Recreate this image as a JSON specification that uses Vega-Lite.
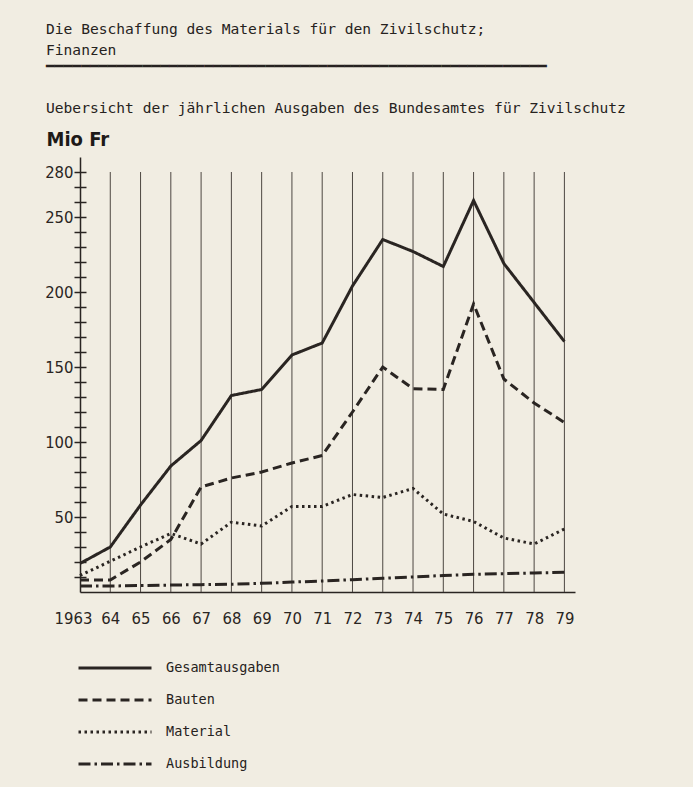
{
  "$schema": "https://vega.github.io/schema/vega-lite/v6.json",
  "width": 495,
  "height": 435,
  "autosize": {"type": "none"},
  "padding": {"left": 80, "top": 157, "right": 118, "bottom": 195},
  "background": "#f1ede2",
  "title": {
    "text": ["Die Beschaffung des Materials für den Zivilschutz;", "Finanzen"],
    "subtitle": ["━━━━━━━━━━━━━━━━━━━━━━━━━━━━━━━━━━━━━━━━━━━━━━━━━━━━━━━━━", "Uebersicht der jährlichen Ausgaben des Bundesamtes für Zivilschutz"],
    "anchor": "start",
    "frame": "group",
    "dx": -34,
    "offset": 13,
    "font": "DejaVu Sans Mono",
    "fontSize": 14.6,
    "fontWeight": "normal",
    "color": "#262220",
    "lineHeight": 21,
    "subtitleFont": "DejaVu Sans Mono",
    "subtitleFontSize": 14.6,
    "subtitleColor": "#262220",
    "subtitleLineHeight": 42,
    "subtitlePadding": 2
  },
  "data": {
    "values": [
      {"year": 1963, "series": "Gesamtausgaben", "value": 19},
      {"year": 1964, "series": "Gesamtausgaben", "value": 30},
      {"year": 1965, "series": "Gesamtausgaben", "value": 58},
      {"year": 1966, "series": "Gesamtausgaben", "value": 84},
      {"year": 1967, "series": "Gesamtausgaben", "value": 101},
      {"year": 1968, "series": "Gesamtausgaben", "value": 131},
      {"year": 1969, "series": "Gesamtausgaben", "value": 135},
      {"year": 1970, "series": "Gesamtausgaben", "value": 158},
      {"year": 1971, "series": "Gesamtausgaben", "value": 166},
      {"year": 1972, "series": "Gesamtausgaben", "value": 204},
      {"year": 1973, "series": "Gesamtausgaben", "value": 235},
      {"year": 1974, "series": "Gesamtausgaben", "value": 227},
      {"year": 1975, "series": "Gesamtausgaben", "value": 217},
      {"year": 1976, "series": "Gesamtausgaben", "value": 261},
      {"year": 1977, "series": "Gesamtausgaben", "value": 219},
      {"year": 1978, "series": "Gesamtausgaben", "value": 193},
      {"year": 1979, "series": "Gesamtausgaben", "value": 167},
      {"year": 1963, "series": "Bauten", "value": 8},
      {"year": 1964, "series": "Bauten", "value": 8},
      {"year": 1965, "series": "Bauten", "value": 20},
      {"year": 1966, "series": "Bauten", "value": 35},
      {"year": 1967, "series": "Bauten", "value": 70},
      {"year": 1968, "series": "Bauten", "value": 76},
      {"year": 1969, "series": "Bauten", "value": 80},
      {"year": 1970, "series": "Bauten", "value": 86},
      {"year": 1971, "series": "Bauten", "value": 91},
      {"year": 1972, "series": "Bauten", "value": 120},
      {"year": 1973, "series": "Bauten", "value": 150},
      {"year": 1974, "series": "Bauten", "value": 135.5},
      {"year": 1975, "series": "Bauten", "value": 135},
      {"year": 1976, "series": "Bauten", "value": 192},
      {"year": 1977, "series": "Bauten", "value": 142},
      {"year": 1978, "series": "Bauten", "value": 126},
      {"year": 1979, "series": "Bauten", "value": 113},
      {"year": 1963, "series": "Material", "value": 11},
      {"year": 1964, "series": "Material", "value": 20.5},
      {"year": 1965, "series": "Material", "value": 30},
      {"year": 1966, "series": "Material", "value": 39},
      {"year": 1967, "series": "Material", "value": 32},
      {"year": 1968, "series": "Material", "value": 46.5},
      {"year": 1969, "series": "Material", "value": 44},
      {"year": 1970, "series": "Material", "value": 57},
      {"year": 1971, "series": "Material", "value": 57},
      {"year": 1972, "series": "Material", "value": 65},
      {"year": 1973, "series": "Material", "value": 63},
      {"year": 1974, "series": "Material", "value": 69},
      {"year": 1975, "series": "Material", "value": 52},
      {"year": 1976, "series": "Material", "value": 47},
      {"year": 1977, "series": "Material", "value": 36},
      {"year": 1978, "series": "Material", "value": 32},
      {"year": 1979, "series": "Material", "value": 42},
      {"year": 1963, "series": "Ausbildung", "value": 4},
      {"year": 1964, "series": "Ausbildung", "value": 4},
      {"year": 1965, "series": "Ausbildung", "value": 4.3},
      {"year": 1966, "series": "Ausbildung", "value": 4.6},
      {"year": 1967, "series": "Ausbildung", "value": 4.9},
      {"year": 1968, "series": "Ausbildung", "value": 5.2},
      {"year": 1969, "series": "Ausbildung", "value": 5.8},
      {"year": 1970, "series": "Ausbildung", "value": 6.6},
      {"year": 1971, "series": "Ausbildung", "value": 7.3},
      {"year": 1972, "series": "Ausbildung", "value": 8.2},
      {"year": 1973, "series": "Ausbildung", "value": 9.1},
      {"year": 1974, "series": "Ausbildung", "value": 10},
      {"year": 1975, "series": "Ausbildung", "value": 11},
      {"year": 1976, "series": "Ausbildung", "value": 11.8},
      {"year": 1977, "series": "Ausbildung", "value": 12.2},
      {"year": 1978, "series": "Ausbildung", "value": 12.7},
      {"year": 1979, "series": "Ausbildung", "value": 13.1}
    ]
  },
  "layer": [
    {
      "transform": [{"filter": "datum.series == 'Gesamtausgaben' && datum.year > 1963"}],
      "mark": {"type": "rule", "color": "#4d4742", "strokeWidth": 1},
      "encoding": {
        "x": {
          "field": "year",
          "type": "quantitative",
          "scale": {"domain": [1963, 1979.35], "nice": false, "zero": false},
          "axis": {
            "values": [1963, 1964, 1965, 1966, 1967, 1968, 1969, 1970, 1971, 1972, 1973, 1974, 1975, 1976, 1977, 1978, 1979],
            "labelExpr": "datum.value == 1963 ? '1963' : substring(toString(datum.value), 2)",
            "labelOffset": {"condition": {"test": "datum.value == 1963", "value": -7}, "value": 0},
            "labelOverlap": false,
            "labelFlush": false,
            "labelBound": false,
            "title": null
          }
        },
        "y": {
          "datum": 0,
          "type": "quantitative",
          "scale": {"domain": [0, 290], "nice": false, "zero": true},
          "axis": {
            "orient": "left",
            "offset": -6,
            "values": [10, 20, 30, 40, 50, 60, 70, 80, 90, 100, 110, 120, 130, 140, 150, 160, 170, 180, 190, 200, 210, 220, 230, 240, 250, 260, 270, 280],
            "tickSize": 6,
            "tickWidth": 1.5,
            "tickColor": "#2a2522",
            "labels": false,
            "domain": false,
            "grid": false,
            "title": null
          }
        },
        "y2": {"datum": 280}
      }
    },
    {
      "mark": {"type": "line", "strokeWidth": 3, "color": "#2a2522"},
      "encoding": {
        "x": {
          "field": "year",
          "type": "quantitative",
          "scale": {"domain": [1963, 1979.35], "nice": false, "zero": false},
          "axis": {
            "values": [1963, 1964, 1965, 1966, 1967, 1968, 1969, 1970, 1971, 1972, 1973, 1974, 1975, 1976, 1977, 1978, 1979],
            "labelExpr": "datum.value == 1963 ? '1963' : substring(toString(datum.value), 2)",
            "labelOffset": {"condition": {"test": "datum.value == 1963", "value": -7}, "value": 0},
            "labelOverlap": false,
            "labelFlush": false,
            "labelBound": false,
            "title": null
          }
        },
        "y": {
          "field": "value",
          "type": "quantitative",
          "scale": {"domain": [0, 290], "nice": false, "zero": true},
          "axis": {
            "orient": "left",
            "values": [10, 20, 30, 40, 50, 60, 70, 80, 90, 100, 110, 120, 130, 140, 150, 160, 170, 180, 190, 200, 210, 220, 230, 240, 250, 260, 270, 280],
            "labelExpr": "(datum.value % 50 == 0 || datum.value == 280) ? datum.label : ''",
            "tickSize": 6,
            "tickWidth": 1.5,
            "tickColor": "#2a2522",
            "domainColor": "#2a2522",
            "domainWidth": 1.5,
            "grid": false,
            "labelFont": "DejaVu Sans Condensed, Liberation Sans Narrow, Roboto Condensed, Noto Sans",
            "labelFontSize": 16.5,
            "labelColor": "#2a2522",
            "labelPadding": 1,
            "labelOverlap": false,
            "title": "Mio Fr",
            "titleAngle": 0,
            "titleX": -34,
            "titleY": -18,
            "titleAlign": "left",
            "titleBaseline": "middle",
            "titleFont": "DejaVu Sans Condensed, Liberation Sans Narrow, Roboto Condensed, Noto Sans",
            "titleFontSize": 20,
            "titleFontWeight": "bold",
            "titleColor": "#1e1a18"
          }
        },
        "strokeDash": {
          "field": "series",
          "type": "nominal",
          "scale": {
            "domain": ["Gesamtausgaben", "Bauten", "Material", "Ausbildung"],
            "range": [[1, 0], [9, 5], [2.5, 3.5], [12, 4, 2.5, 4]]
          },
          "legend": {
            "orient": "none",
            "legendX": -3,
            "legendY": 501,
            "title": null,
            "padding": 0,
            "symbolType": "stroke",
            "symbolSize": 5329,
            "symbolStrokeWidth": 3,
            "symbolStrokeColor": "#2a2522",
            "symbolOffset": 0,
            "clipHeight": 20,
            "rowPadding": 12,
            "labelOffset": 13,
            "labelFont": "DejaVu Sans Mono",
            "labelFontSize": 13.5,
            "labelColor": "#262220"
          }
        }
      }
    }
  ],
  "resolve": {"scale": {"y": "independent"}},
  "config": {
    "view": {"stroke": null},
    "axisX": {
      "ticks": false,
      "grid": false,
      "domainColor": "#2a2522",
      "domainWidth": 1.5,
      "labelFont": "DejaVu Sans Condensed, Liberation Sans Narrow, Roboto Condensed, Noto Sans",
      "labelFontSize": 16.5,
      "labelColor": "#2a2522",
      "labelPadding": 18,
      "labelOverlap": false,
      "labelFlush": false,
      "labelBound": false
    }
  }
}
